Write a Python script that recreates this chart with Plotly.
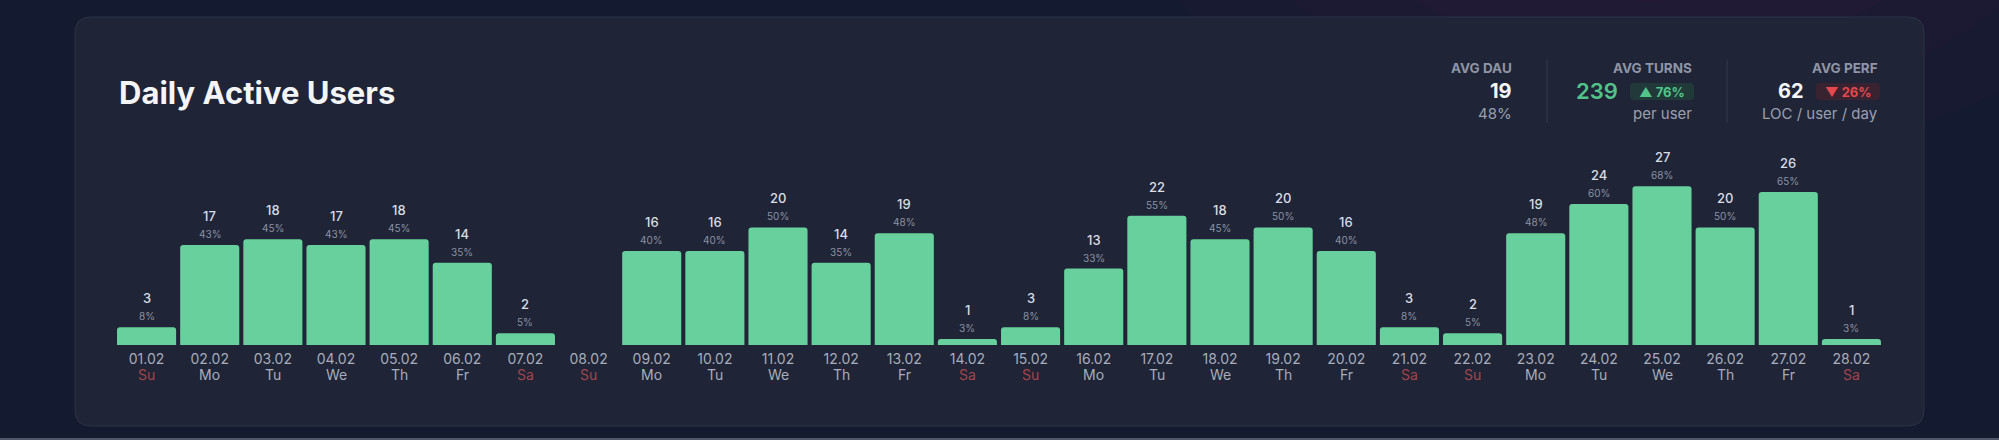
import plotly.graph_objects as go

W, H = 1999, 440

# ---------------- data ----------------
dates = ["01.02", "02.02", "03.02", "04.02", "05.02", "06.02", "07.02",
         "08.02", "09.02", "10.02", "11.02", "12.02", "13.02", "14.02",
         "15.02", "16.02", "17.02", "18.02", "19.02", "20.02", "21.02",
         "22.02", "23.02", "24.02", "25.02", "26.02", "27.02", "28.02"]
weekdays = ["Su", "Mo", "Tu", "We", "Th", "Fr", "Sa",
            "Su", "Mo", "Tu", "We", "Th", "Fr", "Sa",
            "Su", "Mo", "Tu", "We", "Th", "Fr", "Sa",
            "Su", "Mo", "Tu", "We", "Th", "Fr", "Sa"]
users = [3, 17, 18, 17, 18, 14, 2, 0, 16, 16, 20, 14, 19, 1,
         3, 13, 22, 18, 20, 16, 3, 2, 19, 24, 27, 20, 26, 1]
share_pct = [8, 43, 45, 43, 45, 35, 5, 0, 40, 40, 50, 35, 48, 3,
             8, 33, 55, 45, 50, 40, 8, 5, 48, 60, 68, 50, 65, 3]

title_text = "Daily Active Users"
stat_titles = ["AVG DAU", "AVG TURNS", "AVG PERF"]
stat_values = ["19", "239", "62"]
stat_subs = ["48%", "per user", "LOC / user / day"]
stat_badges = [None, "▲ 76%", "▼ 26%"]

# ---------------- style ----------------
FONT = "Inter"
BG = "#141a2f"
CARD = "#1f2437"
CARD_LINE = "#2d3346"
BAR = "#67d09c"
WHITE = "#f3f5f8"
NUM = "#d9dde5"
PCT = "#8b92a2"
TICK = "#a7adba"
WEEKEND = "#a3444a"
GREEN = "#52c48a"
GREEN_BG = "#213a39"
RED = "#e5484d"
RED_BG = "#3a2330"
MUTED = "#9aa0ae"
LABEL = "#8f95a5"

PX_PER_UNIT = 5.88
BASE_Y = 345


def px(x):
    return x / W


def py(y):
    return 1 - y / H


def rrect(x0, y0, x1, y1, r):
    rx, ry = r / W, r / H
    X0, X1 = px(x0), px(x1)
    Y0, Y1 = py(y0), py(y1)  # Y0 top (higher), Y1 bottom
    return (f"M {X0+rx},{Y0} L {X1-rx},{Y0} Q {X1},{Y0} {X1},{Y0-ry} "
            f"L {X1},{Y1+ry} Q {X1},{Y1} {X1-rx},{Y1} L {X0+rx},{Y1} "
            f"Q {X0},{Y1} {X0},{Y1+ry} L {X0},{Y0-ry} Q {X0},{Y0} {X0+rx},{Y0} Z")


idx = list(range(len(dates)))

fig = go.Figure()
fig.add_trace(go.Bar(
    x=idx, y=users,
    marker=dict(color=BAR, line=dict(width=0), cornerradius=3),
    hoverinfo="skip",
))

shapes = []
# background glow (top right)
for rad in (520, 420, 320, 220):
    shapes.append(dict(type="circle", xref="paper", yref="paper",
                       x0=px(1650 - rad), x1=px(1650 + rad),
                       y0=py(-120 + rad * 0.55), y1=py(-120 - rad * 0.55),
                       fillcolor="#7a2d63", opacity=0.05, line=dict(width=0),
                       layer="below"))
# card
shapes.append(dict(type="path", xref="paper", yref="paper",
                   path=rrect(75, 17, 1924, 426, 16),
                   fillcolor=CARD, line=dict(color=CARD_LINE, width=1),
                   layer="below"))
# bottom strip
shapes.append(dict(type="rect", xref="paper", yref="paper",
                   x0=0, x1=1, y0=py(440), y1=py(438),
                   fillcolor="#50566a", line=dict(width=0), layer="below"))
# dividers
for xd in (1547, 1727):
    shapes.append(dict(type="line", xref="paper", yref="paper",
                       x0=px(xd), x1=px(xd), y0=py(60), y1=py(123),
                       line=dict(color="#343a4c", width=1)))
# badges
badge_boxes = [None, (1630, 83, 1694, 100), (1816, 83, 1880, 100)]
badge_fill = [None, GREEN_BG, RED_BG]
badge_col = [None, GREEN, RED]
for b, f in zip(badge_boxes, badge_fill):
    if b:
        shapes.append(dict(type="path", xref="paper", yref="paper",
                           path=rrect(*b, 4), fillcolor=f, line=dict(width=0)))

ann = []
# title
ann.append(dict(text=f"<b>{title_text}</b>", x=px(117), y=py(92),
                xref="paper", yref="paper", xanchor="left", yanchor="middle",
                showarrow=False, font=dict(family=FONT, size=31, color=WHITE)))

# stats
right_edges = [1514, 1694, 1880]
for i in range(3):
    xr = right_edges[i]
    ann.append(dict(text=f"<b>{stat_titles[i]}</b>", x=px(xr), y=py(68),
                    xref="paper", yref="paper", xanchor="right", yanchor="middle",
                    showarrow=False, font=dict(family=FONT, size=13.5, color=LABEL)))
    ann.append(dict(text=stat_subs[i], x=px(xr), y=py(113),
                    xref="paper", yref="paper", xanchor="right", yanchor="middle",
                    showarrow=False, font=dict(family=FONT, size=15, color=MUTED)))
    if stat_badges[i]:
        bx0, by0, bx1, by1 = badge_boxes[i]
        ann.append(dict(text=f"<b>{stat_badges[i]}</b>", x=px((bx0 + bx1) / 2),
                        y=py((by0 + by1) / 2), xref="paper", yref="paper",
                        xanchor="center", yanchor="middle", showarrow=False,
                        font=dict(family=FONT, size=13, color=badge_col[i])))
        vx = bx0 - 10
    else:
        vx = xr
    if i == 1:
        ann.append(dict(text=stat_values[i], x=px(vx), y=py(91),
                        xref="paper", yref="paper", xanchor="right", yanchor="middle",
                        showarrow=False,
                        font=dict(family=FONT, size=22, color=GREEN, weight=600)))
    else:
        ann.append(dict(text=f"<b>{stat_values[i]}</b>", x=px(vx), y=py(91),
                        xref="paper", yref="paper", xanchor="right", yanchor="middle",
                        showarrow=False, font=dict(family=FONT, size=20, color=WHITE)))

# value labels
for i, v, p in zip(idx, users, share_pct):
    if v <= 0:
        continue
    ann.append(dict(text=str(v), x=i, y=v, xref="x", yref="y",
                    yshift=29, xanchor="center", yanchor="middle", showarrow=False,
                    font=dict(family=FONT, size=13, color=NUM, weight=500)))
    ann.append(dict(text=f"{p}%", x=i, y=v, xref="x", yref="y",
                    yshift=11, xanchor="center", yanchor="middle", showarrow=False,
                    font=dict(family=FONT, size=10, color=PCT)))

# weekday row under the date tick labels
for i, wd in zip(idx, weekdays):
    c = WEEKEND if wd in ("Sa", "Su") else TICK
    ann.append(dict(text=wd, x=i, y=py(374.5), xref="x", yref="paper",
                    xanchor="center", yanchor="middle", showarrow=False,
                    font=dict(family=FONT, size=14, color=c)))

fig.update_layout(
    width=W, height=H,
    margin=dict(l=0, r=0, t=0, b=0),
    paper_bgcolor=BG, plot_bgcolor="rgba(0,0,0,0)",
    bargap=0.064, showlegend=False,
    shapes=shapes, annotations=ann,
    font=dict(family=FONT),
    xaxis=dict(domain=[px(115), px(1883)], range=[-0.5, 27.5],
               tickmode="array", tickvals=idx, ticktext=dates,
               showgrid=False, zeroline=False, showline=False, ticks="",
               ticklabelstandoff=4,
               tickfont=dict(family=FONT, size=14, color=TICK),
               fixedrange=True),
    yaxis=dict(domain=[1 - BASE_Y / H, 1], range=[0, BASE_Y / PX_PER_UNIT],
               visible=False, showgrid=False, zeroline=False, fixedrange=True),
)

fig.write_html("out.html", config={"displayModeBar": False},
               post_script=f"document.body.style.margin='0';"
                           f"document.body.style.background='{BG}';"
                           f"document.body.style.overflow='hidden';")
